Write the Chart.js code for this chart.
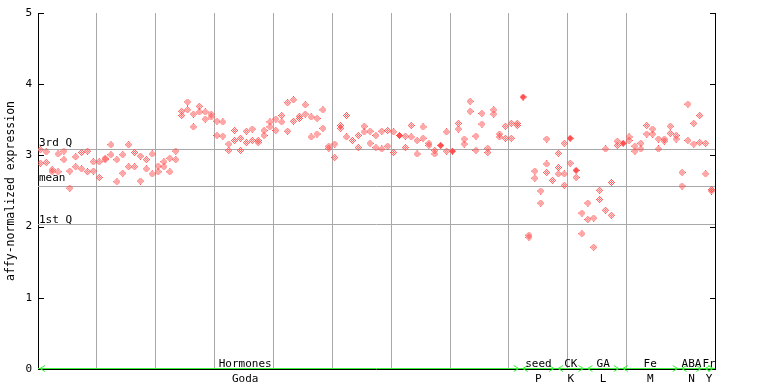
<!DOCTYPE html>
<html><head><meta charset="utf-8">
<script src="https://cdn.jsdelivr.net/npm/chart.js@4"></script>
<style>html,body{margin:0;padding:0;background:#fff}canvas{display:block}</style>
</head><body>
<canvas id="c" width="768" height="384"></canvas>
<script>
// ---- data ----
const replicateA = [
 3.08,3.05,2.80,3.02,3.06,2.78,2.98,3.04,3.06,2.91,
 2.91,2.96,3.15,2.94,3.01,3.15,3.04,2.99,2.94,3.02,
 2.85,2.91,2.96,3.06,3.62,3.75,3.58,3.69,3.61,3.58,
 3.48,3.47,3.16,3.35,3.24,3.34,3.37,3.21,3.35,3.47,
 3.51,3.56,3.74,3.78,3.55,3.71,3.54,3.52,3.64,3.13,
 3.16,3.42,3.56,3.21,3.28,3.41,3.34,3.28,3.34,3.35,
 3.33,null,3.27,3.42,3.21,3.40,3.17,3.07,null,3.33,
 null,3.45,3.23,3.76,3.27,3.59,3.10,3.64,3.30,3.41,
 3.45,3.45,null,1.88,2.78,2.50,3.23,2.65,3.03,3.17,
 2.89,2.69,2.19,2.33,2.12,2.51,3.09,2.62,3.20,null,
 3.26,3.13,3.17,3.42,3.37,3.23,3.23,3.41,3.28,2.76,
 3.72,3.45,3.56,3.17,2.52
];
const replicateB = [
 2.89,2.90,2.77,2.77,2.94,2.54,2.84,2.81,2.77,2.78,
 2.69,2.94,3.01,2.63,2.75,2.84,2.84,2.64,2.81,2.74,
 2.77,2.84,2.77,2.94,3.56,3.64,3.40,3.61,3.51,3.54,
 3.28,3.27,3.07,3.21,3.07,3.18,3.21,3.18,3.28,3.40,
 3.35,3.47,3.34,3.48,3.52,3.58,3.26,3.30,3.38,3.10,
 2.97,3.38,3.26,null,3.11,3.33,3.17,3.11,3.09,3.13,
 3.04,null,3.11,3.26,3.02,3.24,3.14,3.02,null,3.06,
 null,3.37,3.16,3.62,3.07,3.44,3.04,3.58,3.26,3.24,
 3.24,3.42,null,1.85,2.68,2.33,2.88,null,2.83,2.74,
 null,null,1.90,2.10,1.71,2.38,2.23,2.16,3.14,null,
 3.21,3.06,3.09,3.30,3.30,3.09,3.20,3.31,3.23,2.57,
 3.21,3.16,3.18,2.74,2.50
];
const extraIdx = [86, 88, 89];
const extraVal = [2.76, 2.74, 2.58];
const highlightIdx = [61, 68, 70, 82, 90, 91, 99];
const highlightVal = [3.28, 3.14, 3.06, 3.82, 3.24, 2.79, 3.17];
const thirdQuartile = 3.09;
const meanValue = 2.575;
const firstQuartile = 2.03;
const groupTop = ['Hormones','seed','CK','GA','Fe','ABA','Fr'];
const groupBottom = ['Goda','P','K','L','M','N','Y'];
const groupStart = [0, 82, 88, 93, 99, 109, 113];
const groupEnd = [82, 88, 93, 99, 109, 113, 115];
const yTicks = [0,1,2,3,4,5];
const sampleCount = 115;

// ---- layout / style ----
const MONO = '"DejaVu Sans Mono", "Liberation Mono", monospace';
const PT_COLOR = '#ff4f4f';
const GRID = '#a8a8a8';
const GREEN = '#3cf03c';
const xOffset = 0.4;
const labelCenterOverride = {0: 35.2};

function makeDiamond(color, solid){
  const c = document.createElement('canvas'); c.width = 7; c.height = 7;
  const g = c.getContext('2d'); g.fillStyle = color;
  for (let y = 0; y < 7; y++) for (let x = 0; x < 7; x++) {
    const d = Math.abs(x-3) + Math.abs(y-3);
    if (d <= 3 && (solid || (x+y) % 2 === 1)) g.fillRect(x, y, 1, 1);
  }
  return c;
}

const hollow = [];
replicateA.forEach((v,k)=>{ if (v != null) hollow.push({x:k+xOffset, y:v}); });
replicateB.forEach((v,k)=>{ if (v != null) hollow.push({x:k+xOffset, y:v}); });
extraIdx.forEach((k,i)=> hollow.push({x:k+xOffset, y:extraVal[i]}));
const solid = highlightIdx.map((k,i)=>({x:k+xOffset, y:highlightVal[i]}));

const overlay = {
  id: 'overlay',
  beforeDatasetsDraw(chart){
    const {ctx, chartArea:a, scales:{x, y}} = chart;
    ctx.save();
    ctx.strokeStyle = GRID; ctx.lineWidth = 1;
    [thirdQuartile, meanValue, firstQuartile].forEach(v=>{
      const py = Math.round(y.getPixelForValue(v)) + 0.5;
      ctx.beginPath(); ctx.moveTo(a.left, py); ctx.lineTo(a.right, py); ctx.stroke();
    });
    ctx.fillStyle = '#000'; ctx.font = '11px ' + MONO; ctx.textAlign = 'left'; ctx.textBaseline = 'alphabetic';
    ctx.fillText('3rd Q', a.left + 1, y.getPixelForValue(thirdQuartile) - 3);
    ctx.fillText('mean', a.left + 1, y.getPixelForValue(meanValue) - 4.5);
    ctx.fillText('1st Q', a.left + 1, y.getPixelForValue(firstQuartile) - 1.5);
    ctx.restore();
  },
  afterDraw(chart){
    const {ctx, chartArea:a, scales:{x, y}} = chart;
    ctx.save();
    ctx.strokeStyle = '#000'; ctx.lineWidth = 1;
    // right border
    const rx = Math.round(a.right) + 0.5;
    ctx.beginPath(); ctx.moveTo(rx, a.top); ctx.lineTo(rx, a.bottom + 1); ctx.stroke();
    // bottom black axis
    const by = Math.round(a.bottom) + 0.5;
    ctx.beginPath(); ctx.moveTo(a.left, by); ctx.lineTo(a.right, by); ctx.stroke();
    // inner ticks
    yTicks.forEach(t=>{
      const py = Math.round(y.getPixelForValue(t)) + 0.5;
      ctx.beginPath(); ctx.moveTo(a.left, py); ctx.lineTo(a.left + 6, py); ctx.stroke();
      ctx.beginPath(); ctx.moveTo(a.right - 5, py); ctx.lineTo(rx, py); ctx.stroke();
    });
    // green group arrows
    const gy = by - 1;
    ctx.strokeStyle = GREEN; ctx.lineWidth = 1;
    ctx.beginPath(); ctx.moveTo(a.left, gy); ctx.lineTo(a.right, gy); ctx.stroke();
    groupStart.forEach((s,i)=>{
      const x0 = x.getPixelForValue(s) + 2, x1 = x.getPixelForValue(groupEnd[i]) - 2;
      ctx.beginPath();
      ctx.moveTo(x0 + 5, gy - 3); ctx.lineTo(x0, gy); ctx.lineTo(x0 + 5, gy + 3);
      ctx.moveTo(x1 - 5, gy - 3); ctx.lineTo(x1, gy); ctx.lineTo(x1 - 5, gy + 3);
      ctx.stroke();
    });
    // group labels
    ctx.fillStyle = '#000'; ctx.font = '11px ' + MONO; ctx.textAlign = 'center'; ctx.textBaseline = 'alphabetic';
    groupTop.forEach((t,i)=>{
      const c = labelCenterOverride[i] != null ? labelCenterOverride[i] : (groupStart[i] + groupEnd[i]) / 2;
      const px = x.getPixelForValue(c);
      ctx.fillText(t, px, 367);
      ctx.fillText(groupBottom[i], px, 382);
    });
    ctx.restore();
  }
};

new Chart(document.getElementById('c'), {
  type: 'scatter',
  data: { datasets: [
    { data: hollow, pointStyle: makeDiamond(PT_COLOR, false), pointRadius: 3.5, pointHoverRadius: 3.5 },
    { data: solid, pointStyle: makeDiamond(PT_COLOR, true), pointRadius: 3.5, pointHoverRadius: 3.5 }
  ]},
  options: {
    responsive: false, animation: false, devicePixelRatio: 1,
    events: [],
    plugins: { legend: {display:false}, tooltip: {enabled:false} },
    layout: { padding: { left: 0, right: 53, top: 13, bottom: 0 } },
    scales: {
      x: {
        type: 'linear', min: 0, max: sampleCount,
        ticks: { display: false, stepSize: 10 },
        grid: { color: GRID, lineWidth: 1, drawTicks: false },
        border: { display: false },
        afterFit(s){ s.height = 15; }
      },
      y: {
        min: 0, max: 5,
        afterBuildTicks(s){ s.ticks = yTicks.map(v=>({value:v})); },
        ticks: { padding: 6, color: '#000', font: { family: MONO, size: 11 } },
        grid: { display: false, drawTicks: false },
        border: { display: true, color: '#000', width: 1 },
        title: { display: true, text: 'affy-normalized expression', color: '#000',
                 font: { family: MONO, size: 11.5 }, padding: { top: 4.6, bottom: 0 } },
        afterFit(s){ s.width = 38; }
      }
    }
  },
  plugins: [overlay]
});
</script>
</body></html>
